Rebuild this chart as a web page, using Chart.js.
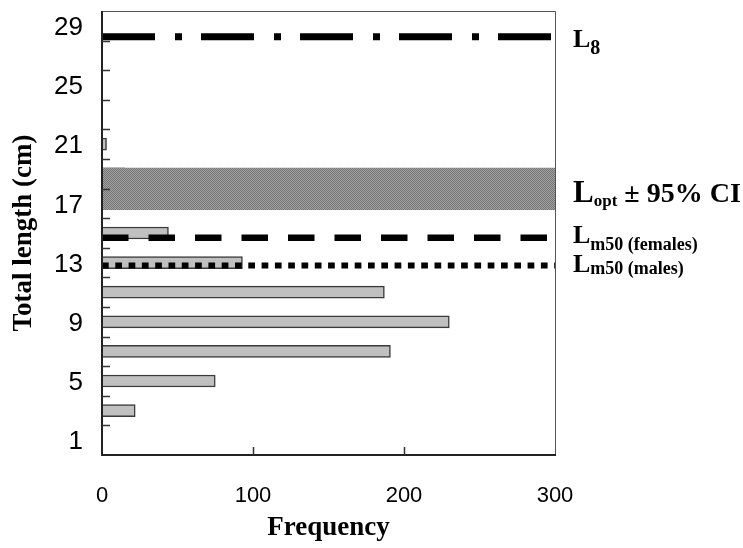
<!DOCTYPE html>
<html>
<head>
<meta charset="utf-8">
<title>Length frequency</title>
<script src="https://cdn.jsdelivr.net/npm/chart.js@4"></script>
<style>
  html, body { margin: 0; padding: 0; background: #fff; }
  #wrap { width: 743px; height: 548px; }
</style>
</head>
<body>
<div id="wrap"><canvas id="chart" width="743" height="548"></canvas></div>
<script>
// length classes (cm, class mid-points) and counts
const lengthClasses = [3, 5, 7, 9, 11, 13, 15, 17, 19, 21];
const frequencies = [22, 75, 191, 230, 187, 93, 44, 27, 15, 3];
const yTickLabels = [1, 5, 9, 13, 17, 21, 25, 29];
const yMinorTicks = [2, 4, 6, 8, 10, 12, 14, 16, 18, 20, 22, 24, 26, 28];
const xTickMarks = [100, 200];

// reference lengths (cm)
const lInf = 28.26;
const lOptRange = [16.55, 19.41];
const lm50Females = 14.68;
const lm50Males = 12.8;

const serif = '"Liberation Serif", "Times New Roman", serif';
const sans = '"Liberation Sans", Arial, sans-serif';

Chart.defaults.font.family = sans;
Chart.defaults.color = '#000';

// little checker pattern for the CI band
const makeShade = (ctx) => {
  const c = document.createElement('canvas');
  c.width = 2; c.height = 2;
  const p = c.getContext('2d');
  p.fillStyle = '#a2a2a2'; p.fillRect(0, 0, 2, 2);
  p.fillStyle = '#757575'; p.fillRect(0, 0, 1, 1); p.fillRect(1, 1, 1, 1);
  return ctx.createPattern(c, 'repeat');
};

const hLine = (ctx, area, y, width, dash) => {
  ctx.save();
  ctx.beginPath();
  ctx.lineWidth = width;
  ctx.strokeStyle = '#000';
  ctx.lineCap = 'butt';
  ctx.setLineDash(dash);
  ctx.moveTo(area.left, y);
  ctx.lineTo(area.right, y);
  ctx.stroke();
  ctx.restore();
};

const overlay = {
  id: 'overlay',
  afterDatasetsDraw(chart) {
    const { ctx, chartArea: a, scales: { x, y } } = chart;

    // Lopt +- 95% CI band
    const top = y.getPixelForValue(lOptRange[1]);
    const bot = y.getPixelForValue(lOptRange[0]);
    ctx.save();
    ctx.fillStyle = makeShade(ctx);
    ctx.fillRect(a.left, top, a.right - a.left, bot - top);
    ctx.restore();

    hLine(ctx, a, y.getPixelForValue(lInf), 7, [53, 20, 7, 19]);
    hLine(ctx, a, y.getPixelForValue(lm50Females), 6.5, [26.5, 20]);
    hLine(ctx, a, y.getPixelForValue(lm50Males), 6, [6.7, 6.6]);

    // frame
    ctx.save();
    ctx.strokeStyle = '#555';
    ctx.lineWidth = 1;
    ctx.beginPath();
    ctx.moveTo(a.left, a.top + 0.5);
    ctx.lineTo(a.right + 0.5, a.top + 0.5);
    ctx.lineTo(a.right + 0.5, a.bottom);
    ctx.stroke();
    ctx.strokeStyle = '#222';
    ctx.lineWidth = 2;
    ctx.beginPath();
    ctx.moveTo(a.left, a.top);
    ctx.lineTo(a.left, a.bottom);
    ctx.lineTo(a.right + 1, a.bottom);
    ctx.stroke();

    // inward tick marks
    ctx.lineWidth = 1.5;
    ctx.strokeStyle = '#333';
    ctx.beginPath();
    yMinorTicks.forEach(v => {
      const py = Math.round(y.getPixelForValue(v)) + 0.5;
      ctx.moveTo(a.left, py);
      ctx.lineTo(a.left + 8, py);
    });
    xTickMarks.forEach(v => {
      const px = Math.round(x.getPixelForValue(v)) + 0.5;
      ctx.moveTo(px, a.bottom);
      ctx.lineTo(px, a.bottom - 8);
    });
    ctx.stroke();
    ctx.restore();
  },
  afterDraw(chart) {
    const { ctx, chartArea: a, scales: { y } } = chart;
    const x0 = a.right + 18;
    const label = (yLine, mainSize, dy, sub, subSize, subDy, tail, tailSize) => {
      const base = yLine + dy;
      ctx.save();
      ctx.fillStyle = '#000';
      ctx.textBaseline = 'alphabetic';
      ctx.textAlign = 'left';
      ctx.font = 'bold ' + mainSize + 'px ' + serif;
      ctx.fillText('L', x0, base);
      let xx = x0 + ctx.measureText('L').width;
      ctx.font = 'bold ' + subSize + 'px ' + serif;
      ctx.fillText(sub, xx, base + subDy);
      xx += ctx.measureText(sub).width;
      if (tail) {
        ctx.font = 'bold ' + (tailSize || mainSize) + 'px ' + serif;
        ctx.fillText(tail, xx, base);
      }
      ctx.restore();
    };
    label(y.getPixelForValue(lInf), 26, 10, '8', 20, 7);
    const mid = (y.getPixelForValue(lOptRange[0]) + y.getPixelForValue(lOptRange[1])) / 2;
    label(mid, 31, 12.8, 'opt', 17, 4.5, ' \u00b1 95% CI', 28);
    label(y.getPixelForValue(lm50Females), 26, 5.3, 'm50 (females)', 18, 6.5);
    label(y.getPixelForValue(lm50Males), 26, 6.2, 'm50 (males)', 18, 2.5);
  }
};

new Chart(document.getElementById('chart'), {
  type: 'bar',
  data: {
    datasets: [{
      data: lengthClasses.map((c, i) => ({ x: frequencies[i], y: c })),
      backgroundColor: '#c0c0c0',
      borderColor: '#3a3a3a',
      borderWidth: 1.5,
      barThickness: 12
    }]
  },
  options: {
    indexAxis: 'y',
    responsive: false,
    animation: false,
    layout: { padding: { top: 11, right: 188, left: 0, bottom: 0 } },
    plugins: { legend: { display: false }, tooltip: { enabled: false } },
    scales: {
      x: {
        type: 'linear',
        min: 0,
        max: 300,
        offset: false,
        grid: { display: false, drawTicks: false },
        border: { display: false },
        ticks: { stepSize: 100, padding: 28, font: { size: 22 }, color: '#000' },
        title: {
          display: true,
          text: 'Frequency',
          font: { family: serif, size: 27, weight: 'bold' },
          color: '#000',
          padding: { top: 0, bottom: 4 }
        },
        afterFit(s) { s.height = 93; s.paddingLeft = 0; s.paddingRight = 0; }
      },
      y: {
        type: 'linear',
        min: 0,
        max: 30,
        offset: false,
        grid: { display: false, drawTicks: false, offset: false },
        border: { display: false },
        afterBuildTicks(s) { s.ticks = yTickLabels.map(v => ({ value: v })); },
        ticks: { padding: 19, font: { size: 26 }, color: '#000', labelOffset: 2 },
        title: {
          display: true,
          text: 'Total length (cm)',
          font: { family: serif, size: 27, weight: 'bold' },
          color: '#000',
          padding: { top: 8, bottom: 0 }
        },
        afterFit(s) { s.width = 102; s.paddingTop = 0; s.paddingBottom = 0; }
      }
    }
  },
  plugins: [overlay]
});
</script>
</body>
</html>
